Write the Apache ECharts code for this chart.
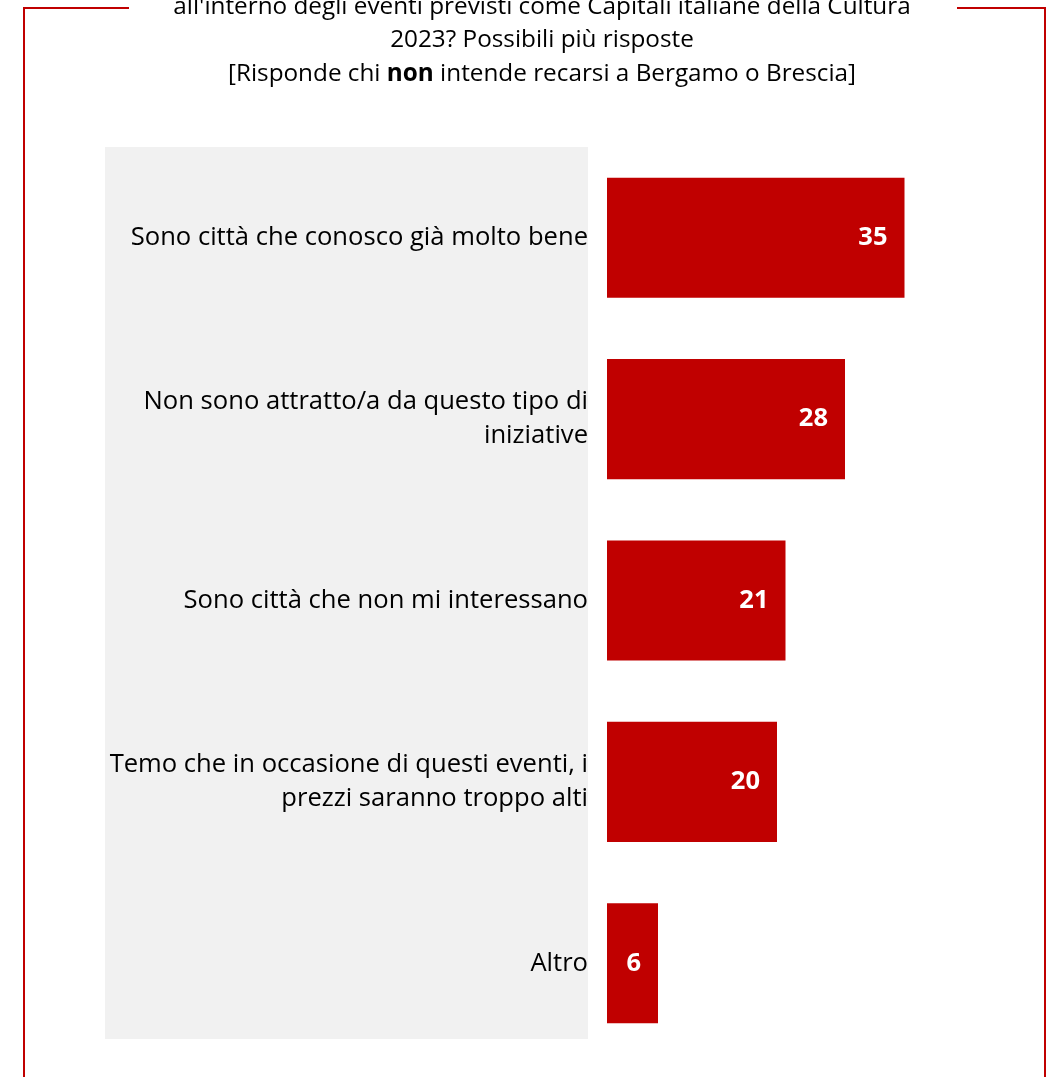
<!DOCTYPE html>
<html>
<head>
<meta charset="utf-8">
<title>Motivi per non recarsi a Bergamo o Brescia</title>
<script src="https://cdn.jsdelivr.net/npm/echarts@6/dist/echarts.min.js"></script>
<style>
  html, body { margin: 0; padding: 0; background: #ffffff; }
  #chart { width: 1051px; height: 1077px; }
</style>
</head>
<body>
<div id="chart"></div>
<script>
// Survey answers (percent of respondents, multiple answers allowed)
const categories = [
  'Sono città che conosco già molto bene',
  'Non sono attratto/a da questo tipo di\niniziative',
  'Sono città che non mi interessano',
  'Temo che in occasione di questi eventi, i\nprezzi saranno troppo alti',
  'Altro'
];
const values = [35, 28, 21, 20, 6];

const titleLines = [
  "all'interno degli eventi previsti come Capitali italiane della Cultura",
  '2023? Possibili più risposte',
  '[Risponde chi {b|non} intende recarsi a Bergamo o Brescia]'
];

const FONT = '"Open Sans", Lato, sans-serif';
const RED = '#C00000';

const chart = echarts.init(document.getElementById('chart'), null, { renderer: 'canvas' });

chart.setOption({
  backgroundColor: '#ffffff',
  animation: false,
  grid: { left: 607, top: 147, width: 425, height: 907, containLabel: false },
  xAxis: {
    type: 'value', min: 0, max: 50,
    show: false
  },
  yAxis: {
    type: 'category',
    inverse: true,
    data: categories,
    axisLine: { show: false },
    axisTick: { show: false },
    splitLine: { show: false },
    axisLabel: {
      margin: 19,
      align: 'right',
      fontFamily: FONT,
      fontSize: 25.6,
      lineHeight: 34,
      color: '#000000'
    }
  },
  graphic: [
    // shaded panel behind the answer texts
    { type: 'rect', z: -10, shape: { x: 105, y: 147, width: 483, height: 892 }, style: { fill: '#F1F1F1' } },
    // frame: top segments interrupted by the title, and the two sides
    { type: 'polyline', z: 5, shape: { points: [[24, 1077], [24, 8], [129, 8]] }, style: { stroke: RED, lineWidth: 2, fill: null } },
    { type: 'polyline', z: 5, shape: { points: [[957, 8], [1045, 8], [1045, 1077]] }, style: { stroke: RED, lineWidth: 2, fill: null } },
    {
      type: 'text', z: 6, x: 542, y: -10,
      style: {
        text: titleLines.join('\n'),
        align: 'center', verticalAlign: 'top',
        fontFamily: FONT, fontSize: 24.3, lineHeight: 33.5, fill: '#000000',
        rich: { b: { fontFamily: FONT, fontSize: 24.3, fontWeight: 'bold', lineHeight: 33.5, fill: '#000000' } }
      }
    }
  ],
  series: [{
    type: 'bar',
    data: values,
    barCategoryGap: '33.8%',
    itemStyle: { color: RED },
    label: {
      show: true,
      position: 'insideRight',
      distance: 17,
      color: '#ffffff',
      fontFamily: FONT,
      fontWeight: 'bold',
      fontSize: 25.5
    }
  }]
});
</script>
</body>
</html>
